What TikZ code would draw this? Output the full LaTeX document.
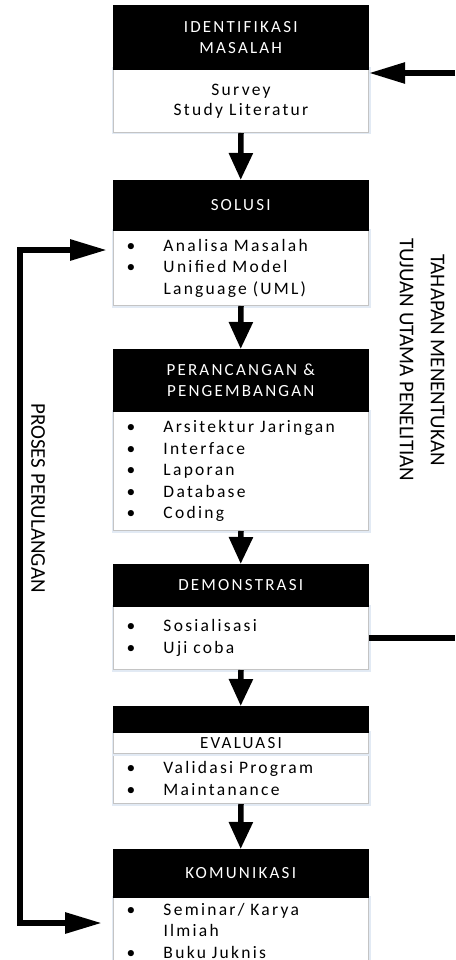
\documentclass[tikz,border=0pt]{standalone}
\usepackage{fontspec}
\setmainfont{Carlito}
\newfontfamily\boxfont[LetterSpace=13]{Carlito}
\newfontfamily\sidefont{Carlito}
\usetikzlibrary{arrows.meta}

\definecolor{edgegray}{HTML}{C4C4C4}
\definecolor{glow}{HTML}{E2EAF4}

\newcommand{\bul}{\makebox[37pt][l]{\textbullet}}
\newcommand{\ind}{\hspace*{37pt}}

\begin{document}
\begin{tikzpicture}[x=1pt,y=-1pt,
  boxglow/.style={preaction={draw=glow,line width=4pt}},
  hdr/.style={draw=black,fill=black,text=white,minimum width=255pt,inner sep=0pt,
    anchor=north west,align=center,font=\boxfont\fontsize{17}{21}\selectfont},
  bodybox/.style={draw=edgegray,line width=1pt,fill=white,minimum width=255pt,inner sep=0pt,
    anchor=north west,font=\boxfont\fontsize{17.5}{21.5}\selectfont},
  listbody/.style={bodybox,text width=229pt,inner xsep=13pt,inner ysep=0pt,align=left},
  flow/.style={line width=5.5pt,-{Triangle[length=27pt,width=23pt]}},
  sideflow/.style={line width=5.5pt,-{Triangle[length=36pt,width=20pt]}},
  loopflow/.style={line width=6pt,{Triangle[length=37pt,width=20pt]}-{Triangle[length=37pt,width=20pt]},line join=miter},
  plain/.style={line width=5.5pt},
  sidetext/.style={rotate=-90,font=\sidefont\fontsize{21}{31}\selectfont,align=center,inner sep=0pt}
]
\useasboundingbox (0,0) rectangle (455,960);
\begin{scope}
\clip (0,0) rectangle (455,960);

% identifikasi masalah
\node[bodybox,boxglow,minimum height=63pt,align=center,font=\boxfont\fontsize{17.5}{19.5}\selectfont] (b1) at (113,69) {Survey\\Study Literatur};
\node[hdr,minimum height=64pt] (h1) at (113,5) {IDENTIFIKASI\\MASALAH};

% solusi
\node[listbody,boxglow,minimum height=75pt] (b2) at (113,230)
  {\bul Analisa Masalah\\\bul Unified Model\\\ind Language (UML)};
\node[hdr,minimum height=50pt] (h2) at (113,180) {SOLUSI};

% perancangan & pengembangan
\node[listbody,boxglow,minimum height=119pt] (b3) at (113,411)
  {\bul Arsitektur Jaringan\\\bul Interface\\\bul Laporan\\\bul Database\\\bul Coding};
\node[hdr,minimum height=62pt] (h3) at (113,349) {PERANCANGAN \&\\PENGEMBANGAN};

% demonstrasi
\node[listbody,boxglow,minimum height=63pt] (b4) at (113,606)
  {\bul Sosialisasi\\\bul Uji coba};
\node[hdr,minimum height=42pt] (h4) at (113,564) {DEMONSTRASI};

% evaluasi
\node[listbody,boxglow,minimum height=50pt] (b5) at (113,753)
  {\bul Validasi Program\\\bul Maintanance};
\node[bodybox,boxglow,minimum height=21pt,text=black,font=\boxfont\fontsize{17}{21}\selectfont] (h5t) at (113,732) {EVALUASI};
\node[hdr,minimum height=26pt] (h5) at (113,706) {};

% komunikasi
\node[listbody,boxglow,minimum height=66pt] (b6) at (113,897)
  {\bul Seminar/ Karya\\\ind Ilmiah\\\bul Buku Juknis};
\node[hdr,minimum height=48pt] (h6) at (113,849) {KOMUNIKASI};

% main flow
\draw[flow] (b1.south) -- (h2.north);
\draw[flow] (b2.south) -- (h3.north);
\draw[flow] (b3.south) -- (h4.north);
\draw[flow] (b4.south) -- (h5.north);
\draw[flow] (b5.south) -- (h6.north);

% link from demonstrasi back to identifikasi (right side)
\coordinate (rtop) at (455,73);
\coordinate (rdem) at (455,638);
\draw[sideflow] (rtop) -- (rtop -| b1.east);
\draw[plain] (b4.east |- rdem) -- (rdem);

% iteration loop (left side)
\coordinate (ltop) at (20,250);
\coordinate (lbot) at (20,923);
\coordinate (tiptop) at (107,250);
\coordinate (tipbot) at (102,923);
\draw[loopflow] (tipbot) -- (lbot) -- (ltop) -- (tiptop);

% side captions
\node[sidetext] (loopcap) at (38,498) {PROSES PERULANGAN};
\node[sidetext] (goalcap) at (422,360) {TAHAPAN MENENTUKAN\\TUJUAN UTAMA PENELITIAN};
\end{scope}
\end{tikzpicture}
\end{document}
